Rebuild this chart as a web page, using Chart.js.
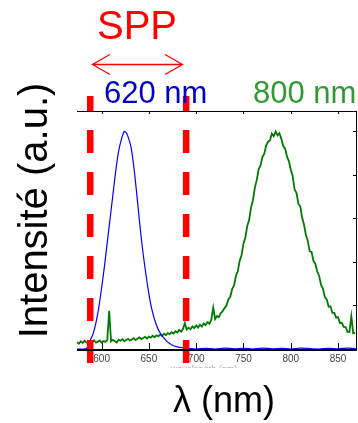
<!DOCTYPE html>
<html>
<head>
<meta charset="utf-8">
<script src="https://cdn.jsdelivr.net/npm/chart.js@4"></script>
<style>
  body { margin: 0; background: #fff; }
  canvas { display: block; }
</style>
</head>
<body>
<canvas id="spectre" width="358" height="423"></canvas>
<script>
// longueurs d'onde des ticks (nm)
const xTicks = [600, 650, 700, 750, 800, 850];
const yTicks = [0.2, 0.4, 0.6, 0.8, 1.0];

// spectre bleu (620 nm)
const blueNm = [574, 580, 584, 588, 591, 594, 597, 600, 603, 606, 609, 612, 615, 618, 621, 624, 626, 628, 631, 634,
    637, 640, 643, 646, 649, 652, 655, 658, 661, 664, 668, 672, 676, 680, 685, 690, 695, 700, 710, 720,
    730, 740, 750, 760, 770, 780, 790, 800, 810, 820, 830, 840, 850, 860, 869];
const blueVal = [0.0, 0.0, 0.002, 0.04, 0.07, 0.12, 0.19, 0.28, 0.38, 0.49, 0.60, 0.71, 0.82, 0.91, 0.965, 1.0, 0.995, 0.975, 0.93, 0.84,
    0.72, 0.59, 0.47, 0.37, 0.28, 0.205, 0.15, 0.11, 0.08, 0.06, 0.04, 0.025, 0.015, 0.01, 0.006, 0.003, 0.002, 0.0, 0.003, 0.0,
    0.004, 0.001, 0.003, 0.0, 0.004, 0.001, 0.003, 0.0, 0.004, 0.002, 0.0, 0.003, 0.001, 0.004, 0.002];

// spectre vert (800 nm), bruité
const greenNm = [574, 576, 578, 580, 582, 584, 586, 588, 590, 592, 594, 596, 598, 600, 602, 604, 606, 608, 610, 612,
    614, 616, 618, 620, 622, 624, 626, 628, 630, 632, 634, 636, 638, 640, 642, 644, 646, 648, 650, 652,
    654, 656, 658, 660, 662, 664, 666, 668, 670, 672, 674, 676, 678, 680, 682, 684, 686, 688, 690, 692,
    694, 696, 698, 700, 702, 704, 706, 708, 710, 712, 714, 716, 718, 720, 722, 724, 726, 728, 730, 732,
    734, 736, 738, 740, 742, 744, 746, 748, 750, 752, 754, 756, 758, 760, 762, 764, 766, 768, 770, 772,
    774, 776, 778, 780, 782, 784, 786, 788, 790, 792, 794, 796, 798, 800, 802, 804, 806, 808, 810, 812,
    814, 816, 818, 820, 822, 824, 826, 828, 830, 832, 834, 836, 838, 840, 842, 844, 846, 848, 850, 852,
    854, 856, 858, 860, 862, 864, 866, 868];
const greenVal = [0.032, 0.024, 0.035, 0.028, 0.038, 0.030, 0.026, 0.036, 0.031, 0.040, 0.029, 0.034, 0.039, 0.030, 0.037, 0.033, 0.041, 0.176, 0.035, 0.042,
    0.036, 0.030, 0.043, 0.038, 0.045, 0.036, 0.041, 0.047, 0.039, 0.044, 0.050, 0.041, 0.048, 0.053, 0.045, 0.051, 0.056, 0.048, 0.057, 0.052,
    0.061, 0.054, 0.063, 0.058, 0.067, 0.060, 0.070, 0.064, 0.073, 0.068, 0.077, 0.071, 0.082, 0.076, 0.088, 0.080, 0.092, 0.118, 0.089, 0.098,
    0.091, 0.104, 0.096, 0.108, 0.099, 0.112, 0.103, 0.118, 0.110, 0.124, 0.116, 0.135, 0.190, 0.138, 0.152, 0.146, 0.165, 0.174, 0.188, 0.200,
    0.228, 0.240, 0.275, 0.292, 0.336, 0.358, 0.406, 0.432, 0.484, 0.512, 0.566, 0.594, 0.651, 0.684, 0.741, 0.776, 0.826, 0.844, 0.882, 0.898,
    0.936, 0.952, 0.960, 0.990, 0.978, 1.000, 0.982, 0.992, 0.966, 0.934, 0.921, 0.884, 0.864, 0.824, 0.796, 0.734, 0.718, 0.668, 0.656, 0.604,
    0.571, 0.524, 0.496, 0.449, 0.446, 0.404, 0.391, 0.356, 0.336, 0.294, 0.278, 0.239, 0.228, 0.194, 0.196, 0.166, 0.166, 0.144, 0.146, 0.119,
    0.121, 0.102, 0.101, 0.079, 0.078, 0.150, 0.072, 0.074];

// bornes SPP (traits rouges)
const sppNm = [588, 689.4];
const sppY = [-0.064, 1.163];

const pairs = (xs, ys) => xs.map((x, i) => ({ x: x, y: ys[i] }));

const sppLine = nm => ({
    data: [{ x: nm, y: sppY[0] }, { x: nm, y: sppY[1] }],
    borderColor: '#ff0000',
    borderWidth: 6.5,
    borderDash: [23, 19],
    pointRadius: 0,
    clip: false,
    order: 0
});

// textes, cadre et ticks vers l'intérieur
const decor = {
    id: 'decor',
    afterDatasetsDraw(chart) {
        const c = chart.ctx;
        const xs = chart.scales.x, ys = chart.scales.y;
        const a = chart.chartArea;
        c.save();
        c.strokeStyle = '#000';
        c.lineWidth = 1;
        c.beginPath();
        c.moveTo(a.left, a.top + 0.5); c.lineTo(a.right, a.top + 0.5);
        c.moveTo(a.right - 0.5, a.top); c.lineTo(a.right - 0.5, a.bottom);
        xTicks.forEach(v => {
            const px = Math.round(xs.getPixelForValue(v)) + 0.5;
            c.moveTo(px, a.top); c.lineTo(px, a.top + 3);
            c.moveTo(px, a.bottom); c.lineTo(px, a.bottom - 6);
        });
        yTicks.forEach(v => {
            const py = Math.round(ys.getPixelForValue(v)) + 0.5;
            c.moveTo(a.right, py); c.lineTo(a.right - 4, py);
        });
        c.stroke();
        c.lineWidth = 2;
        c.beginPath();
        c.moveTo(a.left, a.bottom + 1); c.lineTo(a.right, a.bottom + 1);
        c.stroke();

        // SPP + flèche
        c.fillStyle = '#ff0000';
        c.font = '40px "Liberation Sans", Arial, sans-serif';
        c.textAlign = 'left';
        c.textBaseline = 'alphabetic';
        c.fillText('SPP', 97, 39);
        c.strokeStyle = '#ff0000';
        c.lineWidth = 1.3;
        c.beginPath();
        c.moveTo(92.5, 64.5); c.lineTo(182.5, 64.5);
        c.moveTo(110, 54.5); c.lineTo(92.5, 64.5); c.lineTo(110, 74.5);
        c.moveTo(165, 54.5); c.lineTo(182.5, 64.5); c.lineTo(165, 74.5);
        c.stroke();

        c.font = '31px "Liberation Sans", Arial, sans-serif';
        c.fillStyle = '#0000cc';
        c.fillText('620 nm', 104, 103);
        c.fillStyle = '#339933';
        c.fillText('800 nm', 253, 103);

        // titres des axes
        c.fillStyle = '#000';
        c.font = '36px "Liberation Sans", Arial, sans-serif';
        c.textAlign = 'center';
        c.fillText('λ (nm)', 224, 412);

        c.save();
        c.translate(47, 210.5);
        c.rotate(-Math.PI / 2);
        c.font = '40px "Liberation Sans", Arial, sans-serif';
        c.fillText('Intensité (a.u.)', 0, 0);
        c.restore();

        // petit titre d'origine, à moitié caché
        c.save();
        c.beginPath();
        c.rect(160, 362, 90, 6);
        c.clip();
        c.fillStyle = '#aaa';
        c.font = '9px "Liberation Sans", Arial, sans-serif';
        c.fillText('wavelength (nm)', 204, 372);
        c.restore();
        c.restore();
    }
};

new Chart(document.getElementById('spectre'), {
    type: 'line',
    data: {
        datasets: [
            sppLine(sppNm[0]),
            sppLine(sppNm[1]),
            {
                data: pairs(blueNm, blueVal),
                borderColor: '#0000ff',
                borderWidth: 1.2,
                pointRadius: 0,
                tension: 0.3,
                order: 1
            },
            {
                data: pairs(greenNm, greenVal),
                borderColor: '#007a00',
                borderWidth: 1.8,
                pointRadius: 0,
                order: 2
            }
        ]
    },
    options: {
        responsive: false,
        animation: false,
        events: [],
        layout: { padding: { left: 77, right: 1, top: 111, bottom: 0 } },
        plugins: { legend: { display: false }, tooltip: { enabled: false } },
        scales: {
            x: {
                type: 'linear',
                min: 574,
                max: 870,
                grid: { display: false, drawTicks: false },
                border: { display: false },
                afterBuildTicks: s => { s.ticks = xTicks.map(v => ({ value: v })); },
                afterFit: s => { s.height = 74; },
                ticks: {
                    padding: 4,
                    color: '#444',
                    font: { family: '"Liberation Sans", Arial, sans-serif', size: 10 }
                }
            },
            y: {
                display: false,
                min: 0,
                max: 1.094
            }
        }
    },
    plugins: [decor]
});
</script>
</body>
</html>
